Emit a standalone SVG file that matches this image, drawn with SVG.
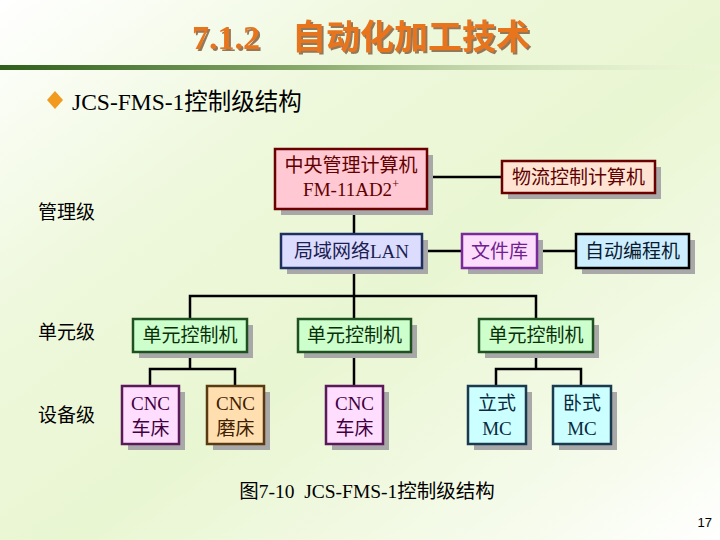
<svg xmlns="http://www.w3.org/2000/svg" width="720" height="540" viewBox="0 0 720 540">
<defs>
<linearGradient id="bg" x1="0" y1="0" x2="1" y2="1">
<stop offset="0" stop-color="#FFFFFF"/>
<stop offset="0.3" stop-color="#EEF8DC"/>
<stop offset="0.55" stop-color="#E9F6D2"/>
<stop offset="0.85" stop-color="#F6FBEC"/>
<stop offset="1" stop-color="#FFFFFF"/>
</linearGradient>
<linearGradient id="rule" x1="0" y1="0" x2="1" y2="0">
<stop offset="0" stop-color="#2F5F1A"/>
<stop offset="0.45" stop-color="#8FAE72"/>
<stop offset="1" stop-color="#EEF6DE" stop-opacity="0.2"/>
</linearGradient>
<filter id="ts" x="-5%" y="-20%" width="115%" height="150%">
<feDropShadow dx="2" dy="2" stdDeviation="0.4" flood-color="#8A6A4A" flood-opacity="0.9"/>
</filter>
<style>
.sh{fill:#A8A8A8}
.bx{stroke-width:2.5}
.t{font-family:"Liberation Serif","Noto Sans CJK SC",serif;font-size:19px;text-anchor:middle}
.lv{font-family:"Liberation Serif","Noto Sans CJK SC",serif;font-size:19px;fill:#000}
.cn{fill:none;stroke:#000;stroke-width:2.5}
</style>
</defs>
<rect x="0" y="0" width="720" height="540" fill="url(#bg)"/>
<rect x="0" y="65" width="720" height="5" fill="url(#rule)"/>

<g id="title" font-family="'Liberation Serif','Noto Sans CJK SC',serif" font-weight="bold" font-size="34" fill="#E8751F" filter="url(#ts)">
<text x="192" y="49">7.1.2</text>
<text x="292" y="49">自动化加工技术</text>
</g>

<g id="subtitle">
<polygon points="55,91 63,100 55,109 47,100" fill="#F29A1E"/>
<text x="72" y="110" font-family="'Liberation Serif','Noto Sans CJK SC',serif" font-size="23.5" fill="#000">JCS-FMS-1控制级结构</text>
</g>

<g id="levels">
<text class="lv" x="38" y="219">管理级</text>
<text class="lv" x="38" y="339">单元级</text>
<text class="lv" x="38" y="422">设备级</text>
</g>

<g id="connectors">
<line class="cn" x1="427" y1="177" x2="502" y2="177"/>
<line class="cn" x1="354" y1="209" x2="354" y2="234"/>
<line class="cn" x1="422" y1="251" x2="462" y2="251"/>
<line class="cn" x1="537" y1="251" x2="576" y2="251"/>
<line class="cn" x1="354" y1="268" x2="354" y2="319"/>
<polyline class="cn" points="190,319 190,296 536,296 536,319"/>
<line class="cn" x1="190" y1="352" x2="190" y2="369"/>
<polyline class="cn" points="150,386 150,369 235,369 235,386"/>
<line class="cn" x1="354" y1="352" x2="354" y2="386"/>
<line class="cn" x1="536" y1="352" x2="536" y2="369"/>
<polyline class="cn" points="496,386 496,369 581,369 581,386"/>
</g>

<g id="central">
<rect class="sh" x="281" y="155" width="152" height="60"/>
<rect class="bx" x="275" y="149" width="152" height="60" fill="#FFC8D2" stroke="#6A0000"/>
<text class="t" x="351" y="172" fill="#600000">中央管理计算机</text>
<text class="t" x="351" y="196" fill="#600000">FM-11AD2<tspan font-size="12" dy="-8">+</tspan></text>
</g>

<g id="logistics">
<rect class="sh" x="508" y="167" width="153" height="32"/>
<rect class="bx" x="502" y="161" width="153" height="32" fill="#FFE4D4" stroke="#6A0000"/>
<text class="t" x="578.5" y="184" fill="#600000">物流控制计算机</text>
</g>

<g id="lan">
<rect class="sh" x="287" y="240" width="141" height="34"/>
<rect class="bx" x="281" y="234" width="141" height="34" fill="#DCDCFF" stroke="#1F3060"/>
<text class="t" x="351.5" y="258" fill="#1A2050">局域网络LAN</text>
</g>

<g id="filelib">
<rect class="sh" x="468" y="240" width="75" height="34"/>
<rect class="bx" x="462" y="234" width="75" height="34" fill="#FCDDFC" stroke="#7A2A9A"/>
<text class="t" x="499.5" y="258" fill="#702090">文件库</text>
</g>

<g id="autoprog">
<rect class="sh" x="582" y="240" width="113" height="34"/>
<rect class="bx" x="576" y="234" width="113" height="34" fill="#CCEEFF" stroke="#000000"/>
<text class="t" x="632.5" y="258" fill="#0A1A30">自动编程机</text>
</g>

<g id="unit1">
<rect class="sh" x="139" y="325" width="114" height="33"/>
<rect class="bx" x="133" y="319" width="114" height="33" fill="#CCFFCC" stroke="#1E5020"/>
<text class="t" x="190" y="342" fill="#0A300A">单元控制机</text>
</g>

<g id="unit2">
<rect class="sh" x="304" y="325" width="113" height="33"/>
<rect class="bx" x="298" y="319" width="113" height="33" fill="#CCFFCC" stroke="#1E5020"/>
<text class="t" x="354.5" y="342" fill="#0A300A">单元控制机</text>
</g>

<g id="unit3">
<rect class="sh" x="485" y="325" width="114" height="33"/>
<rect class="bx" x="479" y="319" width="114" height="33" fill="#CCFFCC" stroke="#1E5020"/>
<text class="t" x="536" y="342" fill="#0A300A">单元控制机</text>
</g>

<g id="cnc-lathe1">
<rect class="sh" x="128" y="392" width="57" height="58"/>
<rect class="bx" x="122" y="386" width="57" height="58" fill="#FFDDFF" stroke="#5A1A5A"/>
<text class="t" x="150.5" y="410" fill="#400040">CNC</text>
<text class="t" x="150.5" y="435" fill="#400040">车床</text>
</g>

<g id="cnc-grinder">
<rect class="sh" x="213" y="392" width="57" height="58"/>
<rect class="bx" x="207" y="386" width="57" height="58" fill="#FFDFB0" stroke="#5A3A10"/>
<text class="t" x="235.5" y="410" fill="#402000">CNC</text>
<text class="t" x="235.5" y="435" fill="#402000">磨床</text>
</g>

<g id="cnc-lathe2">
<rect class="sh" x="332" y="392" width="57" height="58"/>
<rect class="bx" x="326" y="386" width="57" height="58" fill="#FFDDFF" stroke="#5A1A5A"/>
<text class="t" x="354.5" y="410" fill="#400040">CNC</text>
<text class="t" x="354.5" y="435" fill="#400040">车床</text>
</g>

<g id="vmc">
<rect class="sh" x="474" y="392" width="58" height="58"/>
<rect class="bx" x="468" y="386" width="58" height="58" fill="#CCFFFF" stroke="#1A3A50"/>
<text class="t" x="497" y="410" fill="#0A2A40">立式</text>
<text class="t" x="497" y="435" fill="#0A2A40">MC</text>
</g>

<g id="hmc">
<rect class="sh" x="559" y="392" width="58" height="58"/>
<rect class="bx" x="553" y="386" width="58" height="58" fill="#CCFFFF" stroke="#1A3A50"/>
<text class="t" x="582" y="410" fill="#0A2A40">卧式</text>
<text class="t" x="582" y="435" fill="#0A2A40">MC</text>
</g>

<g id="caption">
<text x="367" y="498" font-family="'Liberation Serif','Noto Sans CJK SC',serif" font-size="19.5" text-anchor="middle" fill="#000" xml:space="preserve">图7-10  JCS-FMS-1控制级结构</text>
<text x="712" y="527" font-family="'Liberation Sans',Arial,sans-serif" font-size="13" text-anchor="end" fill="#000">17</text>
</g>
</svg>
